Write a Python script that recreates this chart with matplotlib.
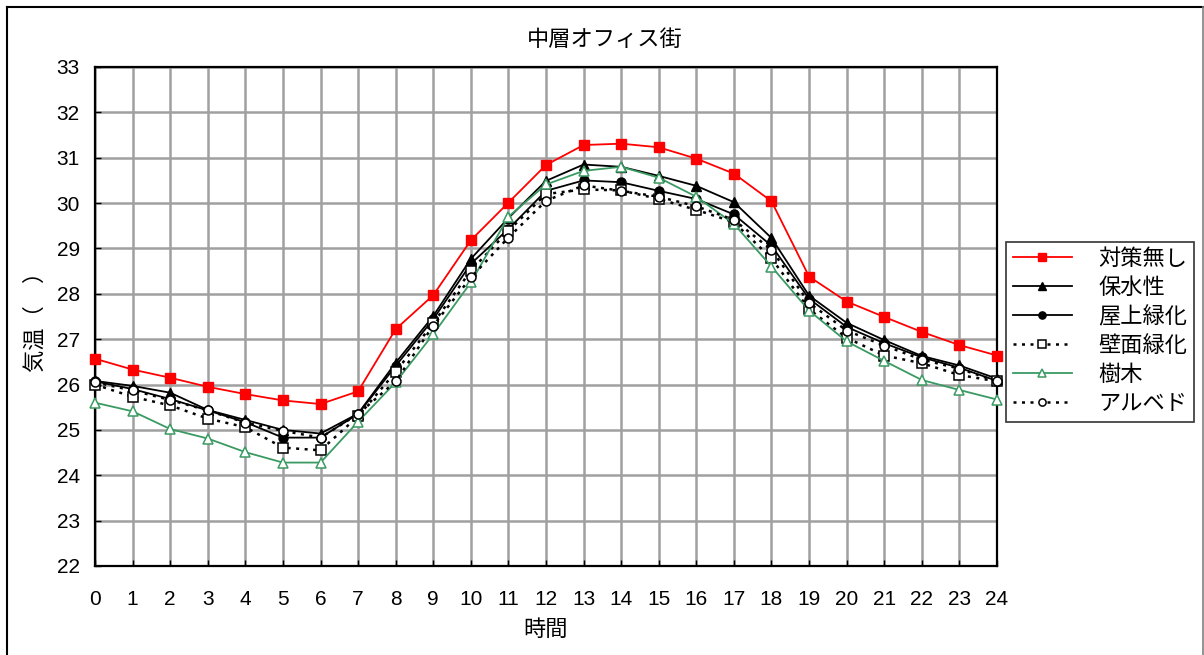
import matplotlib
matplotlib.use("Agg")
import matplotlib.pyplot as plt
from matplotlib.lines import Line2D

plt.rcParams['font.family'] = ['Liberation Sans', 'Noto Sans CJK JP']

hours = list(range(25))
x_tick_labels = [str(h) for h in hours]
y_ticks = list(range(22, 34))

series_names = ["対策無し", "保水性", "屋上緑化", "壁面緑化", "樹木", "アルベド"]

no_measure = [26.57, 26.33, 26.15, 25.95, 25.79, 25.65, 25.57, 25.85, 27.22, 27.97,
              29.18, 30.01, 30.84, 31.28, 31.31, 31.23, 30.98, 30.65, 30.04, 28.38,
              27.83, 27.49, 27.16, 26.87, 26.64]
water_retention = [26.08, 25.97, 25.82, 25.44, 25.22, 25.00, 24.92, 25.36, 26.48, 27.51,
                   28.77, 29.67, 30.49, 30.85, 30.80, 30.60, 30.38, 30.02, 29.23, 27.96,
                   27.36, 26.98, 26.63, 26.42, 26.13]
roof_green = [26.07, 25.90, 25.68, 25.43, 25.17, 24.83, 24.83, 25.35, 26.41, 27.44,
              28.66, 29.43, 30.27, 30.50, 30.46, 30.27, 30.09, 29.75, 29.06, 27.89,
              27.27, 26.91, 26.60, 26.37, 26.08]
wall_green = [26.00, 25.73, 25.54, 25.25, 25.06, 24.61, 24.55, 25.30, 26.28, 27.35,
              28.51, 29.39, 30.20, 30.30, 30.28, 30.09, 29.85, 29.58, 28.78, 27.66,
              27.03, 26.64, 26.47, 26.21, 26.07]
trees = [25.60, 25.41, 25.02, 24.81, 24.51, 24.28, 24.28, 25.18, 26.05, 27.11,
         28.25, 29.70, 30.41, 30.71, 30.80, 30.56, 30.14, 29.54, 28.60, 27.63,
         26.95, 26.52, 26.10, 25.88, 25.67]
albedo = [26.05, 25.87, 25.66, 25.43, 25.16, 24.98, 24.83, 25.35, 26.07, 27.30,
          28.36, 29.24, 30.05, 30.39, 30.27, 30.14, 29.93, 29.63, 28.97, 27.80,
          27.19, 26.86, 26.55, 26.35, 26.07]

fig = plt.figure(figsize=(12.04, 6.55), dpi=100)
ax = fig.add_axes([95 / 1204, 1 - 566 / 655, (997 - 95) / 1204, (566 - 67) / 655])

dot = (0, (1.2, 2.2))
green = "#3a9a62"
styles = [
    dict(color="#ff0000", lw=1.3, ls="-", marker="s", ms=6.5, mfc="#ff0000", mec="#ff0000"),
    dict(color="black", lw=1.3, ls="-", marker="^", ms=7, mfc="black", mec="black"),
    dict(color="black", lw=1.3, ls="-", marker="o", ms=6.5, mfc="black", mec="black"),
    dict(color="black", lw=1.8, ls=dot, marker="s", ms=6.5, mfc="white", mec="black", mew=1.1),
    dict(color=green, lw=1.3, ls="-", marker="^", ms=7, mfc="white", mec=green, mew=1.1),
    dict(color="black", lw=1.8, ls=dot, marker="o", ms=6.5, mfc="white", mec="black", mew=1.1),
]
data = [no_measure, water_retention, roof_green, wall_green, trees, albedo]

for name, vals, st in zip(series_names, data, styles):
    ax.plot(hours, vals, label=name, clip_on=False, zorder=3, **st)

ax.set_xlim(0, 24)
ax.set_ylim(22, 33)
ax.set_xticks(hours)
ax.set_xticklabels(x_tick_labels)
ax.set_yticks(y_ticks)
ax.grid(True, color="#a0a0a0", lw=1.8, zorder=0)
ax.set_axisbelow(True)
ax.tick_params(axis="both", direction="in", length=4, width=1, labelsize=15, color="black")
ax.tick_params(axis="x", pad=17)
ax.tick_params(axis="y", pad=11)
for side in ["left", "bottom", "top", "right"]:
    ax.spines[side].set_linewidth(1.6)

fig.text(605 / 1204, 1 - 40 / 655, "中層オフィス街", ha="center", va="center", fontsize=16)
fig.text(546 / 1204, 1 - 630 / 655, "時間", ha="center", va="center", fontsize=16)
fig.text(36 / 1204, 1 - 316 / 655, "気温（　）", ha="center", va="center", fontsize=16,
         rotation=90)

leg = ax.legend(loc="upper left", bbox_to_anchor=(1006 / 1204, 1 - 242 / 655),
                bbox_transform=fig.transFigure, fontsize=16, frameon=True,
                fancybox=False, edgecolor="black", handlelength=2.65, handletextpad=1.2,
                markerscale=0.8, borderpad=0.3, labelspacing=0.36, borderaxespad=0)
leg.get_frame().set_linewidth(1.2)

# outer frame around the whole chart
fig.add_artist(Line2D([7 / 1204, 7 / 1204], [0, 1 - 7 / 655], color="black", lw=1.5,
                      transform=fig.transFigure))
fig.add_artist(Line2D([7 / 1204, 1203 / 1204], [1 - 7 / 655, 1 - 7 / 655], color="black",
                      lw=1.5, transform=fig.transFigure))
fig.add_artist(Line2D([1203 / 1204, 1203 / 1204], [0, 1 - 7 / 655], color="#808080", lw=1.2,
                      transform=fig.transFigure))

fig.savefig("out.png", dpi=100)
